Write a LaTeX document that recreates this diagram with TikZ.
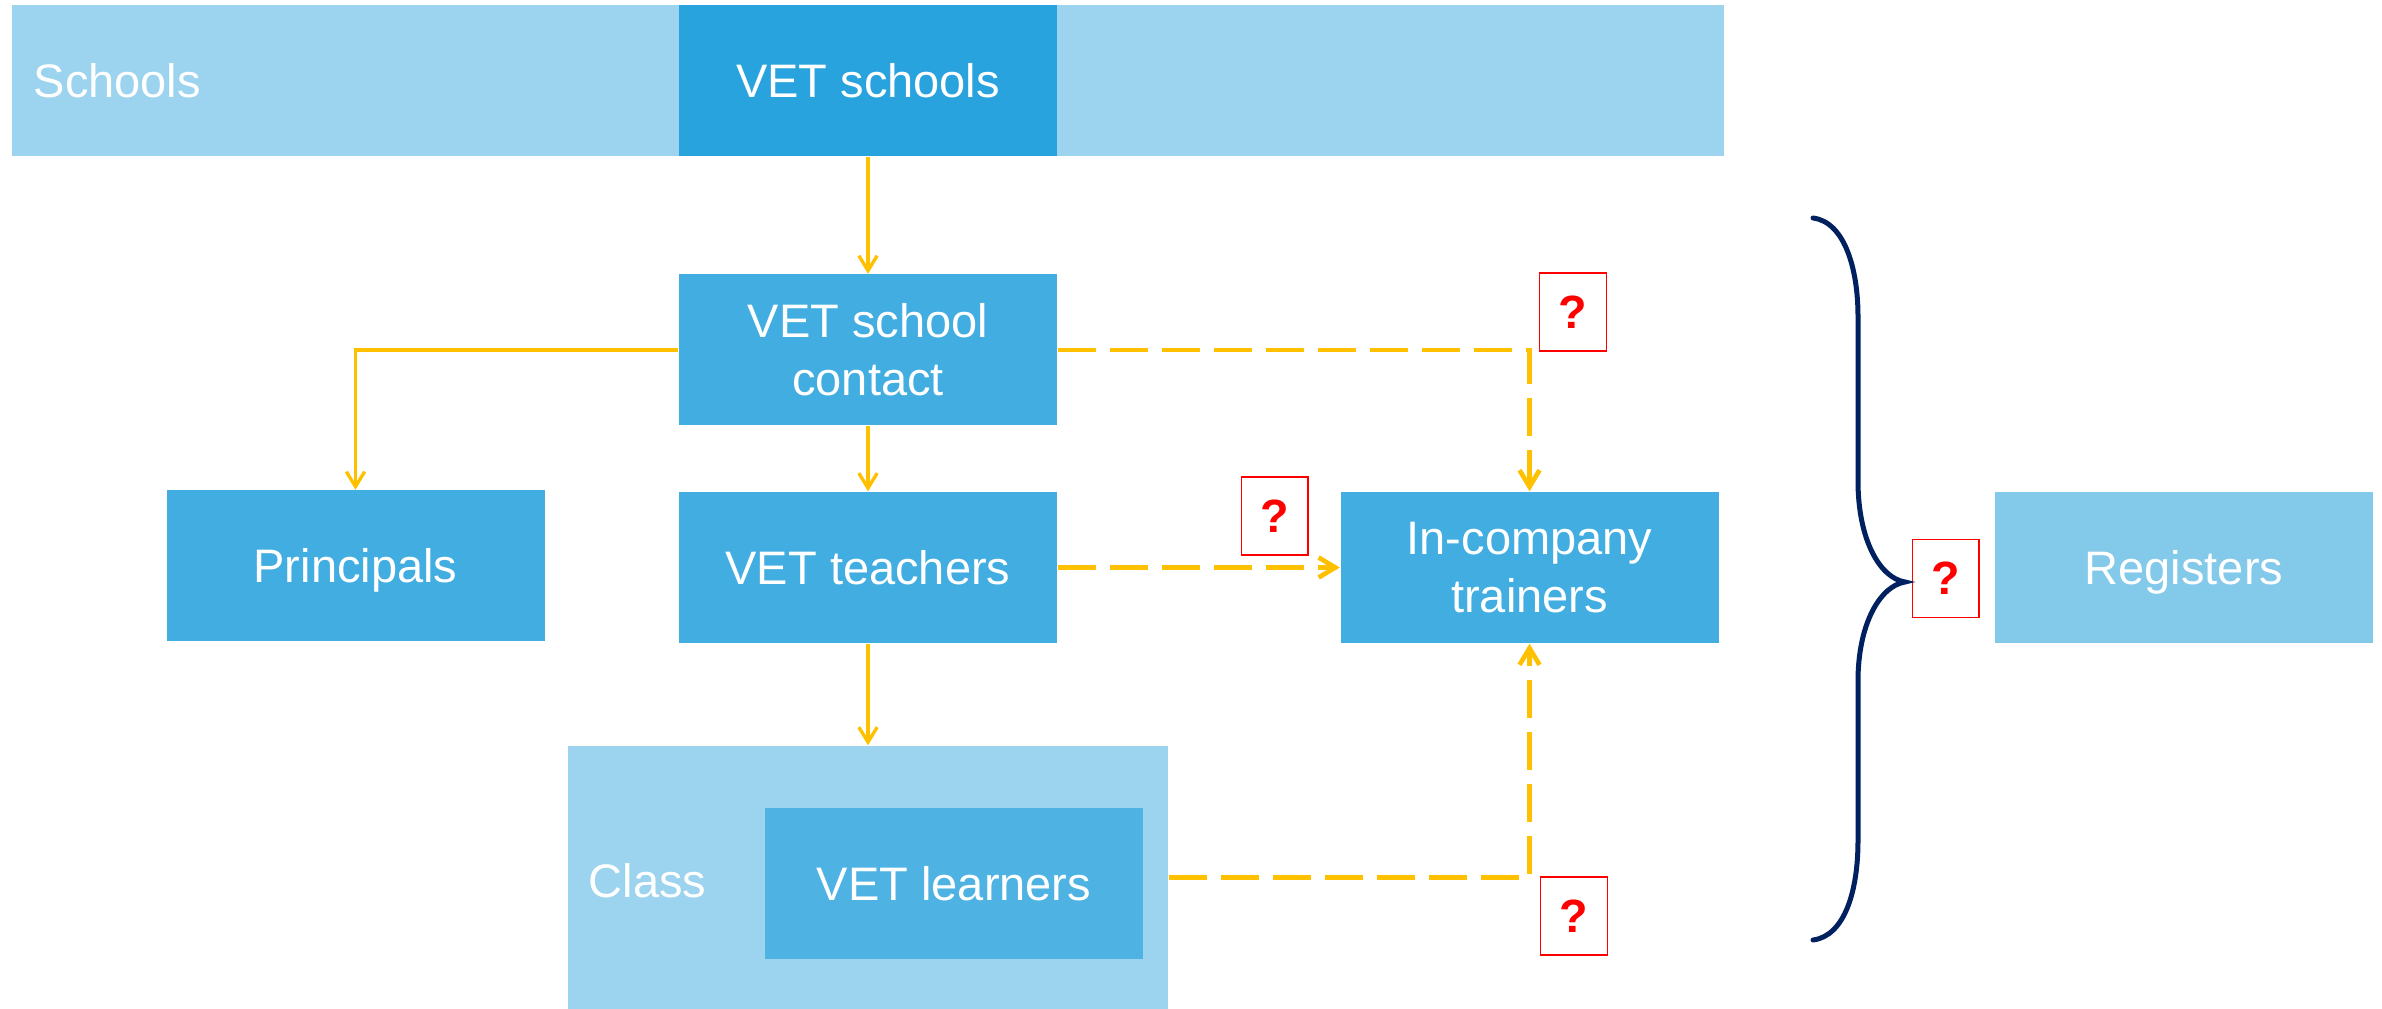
\documentclass[tikz,border=0pt]{standalone}
\usepackage{fontspec}
\setmainfont{Liberation Sans}
\usetikzlibrary{arrows.meta}
\definecolor{bandblue}{HTML}{9CD3EE}
\definecolor{vetblue}{HTML}{28A3DD}
\definecolor{boxblue}{HTML}{42ADE0}
\definecolor{learnblue}{HTML}{4EB3E2}
\definecolor{regblue}{HTML}{83C9EA}
\definecolor{gold}{HTML}{FFC000}
\definecolor{navy}{HTML}{002060}
\definecolor{qred}{HTML}{FF0000}
\begin{document}
\begin{tikzpicture}[x=0.3pt,y=-0.3pt,
  box/.style={rectangle, inner sep=0pt, minimum width=113.4pt, minimum height=45.3pt,
    text=white, font=\fontsize{14.1}{17.4}\selectfont, align=center},
  oneline/.style={text height=10.1pt, text depth=0pt},
  lbl/.style={inner sep=0pt, anchor=west, text=white, font=\fontsize{14.1}{17.4}\selectfont,
    text height=10.1pt, text depth=0pt},
  qbox/.style={rectangle, draw=qred, line width=0.4pt, fill=white, minimum width=20pt,
    minimum height=23.4pt, inner sep=0pt, text=qred, font=\bfseries\fontsize{14}{16}\selectfont},
  solidarrow/.style={draw=gold, line width=1pt, -{Straight Barb[length=4.5pt,width=5.5pt]}},
  dasharrow/.style={draw=gold, line width=1.4pt, dash pattern=on 11.4pt off 4.2pt,
    -{Straight Barb[length=5pt,width=6pt]}}
]
\useasboundingbox (0,0) rectangle (2382,1009);

% top band
\node[box, fill=bandblue, minimum width=513.6pt] (band) at (868,80.5) {};
\node[lbl] (schoolslbl) at (33,81) {Schools};
\node[box, oneline, fill=vetblue] (vetschools) at (868,80.5) {VET schools};

% boxes
\node[box, fill=boxblue] (contact) at (868,350) {VET school\\contact};
\node[box, oneline, fill=boxblue] (principals) at (355.5,566) {Principals};
\node[box, oneline, fill=boxblue] (teachers) at (868,567.5) {VET teachers};
\node[box, fill=boxblue] (trainers) at (1529.5,567.5) {In-company\\trainers};
\node[box, fill=bandblue, minimum width=180pt, minimum height=78.9pt] (class) at (868,877.5) {};
\node[lbl] (classlbl) at (588,881) {Class};
\node[box, oneline, fill=learnblue] (learners) at (954,883.5) {VET learners};
\node[box, oneline, fill=regblue] (registers) at (2184,567.5) {Registers};

% connectors
\draw[solidarrow] (vetschools.south) -- (contact.north);
\draw[solidarrow] (contact.west) -| (principals.north);
\draw[solidarrow] (contact.south) -- (teachers.north);
\draw[solidarrow] (teachers.south) -- (class.north);
\draw[dasharrow] (contact.east) -| (trainers.north);
\draw[dasharrow] (teachers.east) -- (trainers.west);
\draw[dasharrow] (class.east) -| (trainers.south);

% question boxes
\node[qbox] (q1) at (1573,312) {?};
\node[qbox] (q2) at (1274.5,516) {?};
\node[qbox] (q3) at (1945.5,578.5) {?};
\node[qbox] (q4) at (1574,916) {?};

% brace
\draw[navy, line width=1.5pt, line cap=round]
  (1813,218) .. controls (1845,222) and (1858,270) .. (1858,316)
  -- (1858,481)
  .. controls (1858,540) and (1880,578) .. (1905,582)
  .. controls (1880,586) and (1858,624) .. (1858,681)
  -- (1858,841)
  .. controls (1858,890) and (1845,936) .. (1813,940);
\end{tikzpicture}
\end{document}
